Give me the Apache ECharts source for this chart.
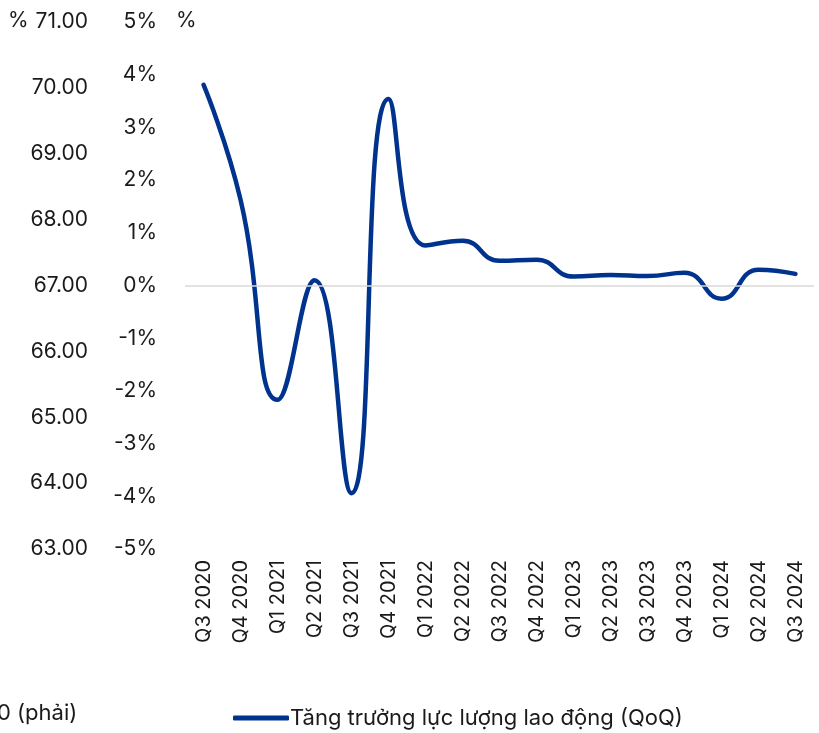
<!DOCTYPE html>
<html>
<head>
<meta charset="utf-8">
<script src="https://cdn.jsdelivr.net/npm/echarts@6/dist/echarts.min.js"></script>
<style>
html,body{margin:0;padding:0;background:#fff;}
#c{width:819px;height:733px;}
</style>
</head>
<body>
<div id="c"></div>
<script>
const categories = ['Q3 2020','Q4 2020','Q1 2021','Q2 2021','Q3 2021','Q4 2021','Q1 2022','Q2 2022','Q3 2022','Q4 2022','Q1 2023','Q2 2023','Q3 2023','Q4 2023','Q1 2024','Q2 2024','Q3 2024'];
const growthQoQ = [3.81, 1.63, -2.17, 0.1, -3.94, 3.54, 0.76, 0.85, 0.47, 0.49, 0.17, 0.2, 0.18, 0.24, -0.25, 0.3, 0.22];
const seriesName = 'Tăng trưởng lực lượng lao động (QoQ)';
const cutLegendText = '0 (phải)';

const FONT = 'Inter';
const TXT = '#1a1a1a';
const chart = echarts.init(document.getElementById('c'), null, {renderer:'canvas'});
chart.setOption({
  animation:false,
  backgroundColor:'#fff',
  textStyle:{fontFamily:FONT},
  grid:{left:185,right:5,top:22,bottom:184,containLabel:false},
  legend:{
    data:[seriesName],
    left:228, top:702,
    itemWidth:56, itemHeight:5, icon:'roundRect',
    textStyle:{fontSize:22,color:TXT,fontFamily:FONT,padding:[0,0,0,-4]}
  },
  graphic:[
    {type:'text',left:-3,top:702,style:{text:cutLegendText,font:'22px Inter',fill:TXT}},
    {type:'text',left:8,top:10,style:{text:'%',font:'21px Inter',fill:TXT}},
    {type:'text',left:176,top:10,style:{text:'%',font:'21px Inter',fill:TXT}}
  ],
  xAxis:{
    type:'category',data:categories,boundaryGap:true,
    axisLine:{show:false},axisTick:{show:false},
    axisLabel:{rotate:90,fontSize:20,color:TXT,margin:11,fontFamily:FONT,interval:0}
  },
  yAxis:[
    {type:'value',min:-5,max:5,interval:1,position:'left',
     axisLine:{show:false},axisTick:{show:false},splitLine:{show:false},
     axisLabel:{formatter:v=>v+'%',fontSize:21,color:TXT,margin:28,fontFamily:FONT}},
    {type:'value',min:63,max:71,interval:1,position:'left',
     axisLine:{show:false},axisTick:{show:false},splitLine:{show:false},
     axisLabel:{formatter:v=>v.toFixed(2),fontSize:21,color:TXT,margin:97,fontFamily:FONT}}
  ],
  series:[{
    name:seriesName,type:'line',yAxisIndex:0,data:growthQoQ,smooth:0.5,
    symbol:'none',lineStyle:{width:4.5,color:'#00338D',cap:'round'},itemStyle:{color:'#00338D'},
    markLine:{silent:true,symbol:'none',label:{show:false},
      lineStyle:{color:'#d9d9d9',width:1.5,type:'solid'},data:[{yAxis:0}]},
    z:3
  }]
});
</script>
</body>
</html>
